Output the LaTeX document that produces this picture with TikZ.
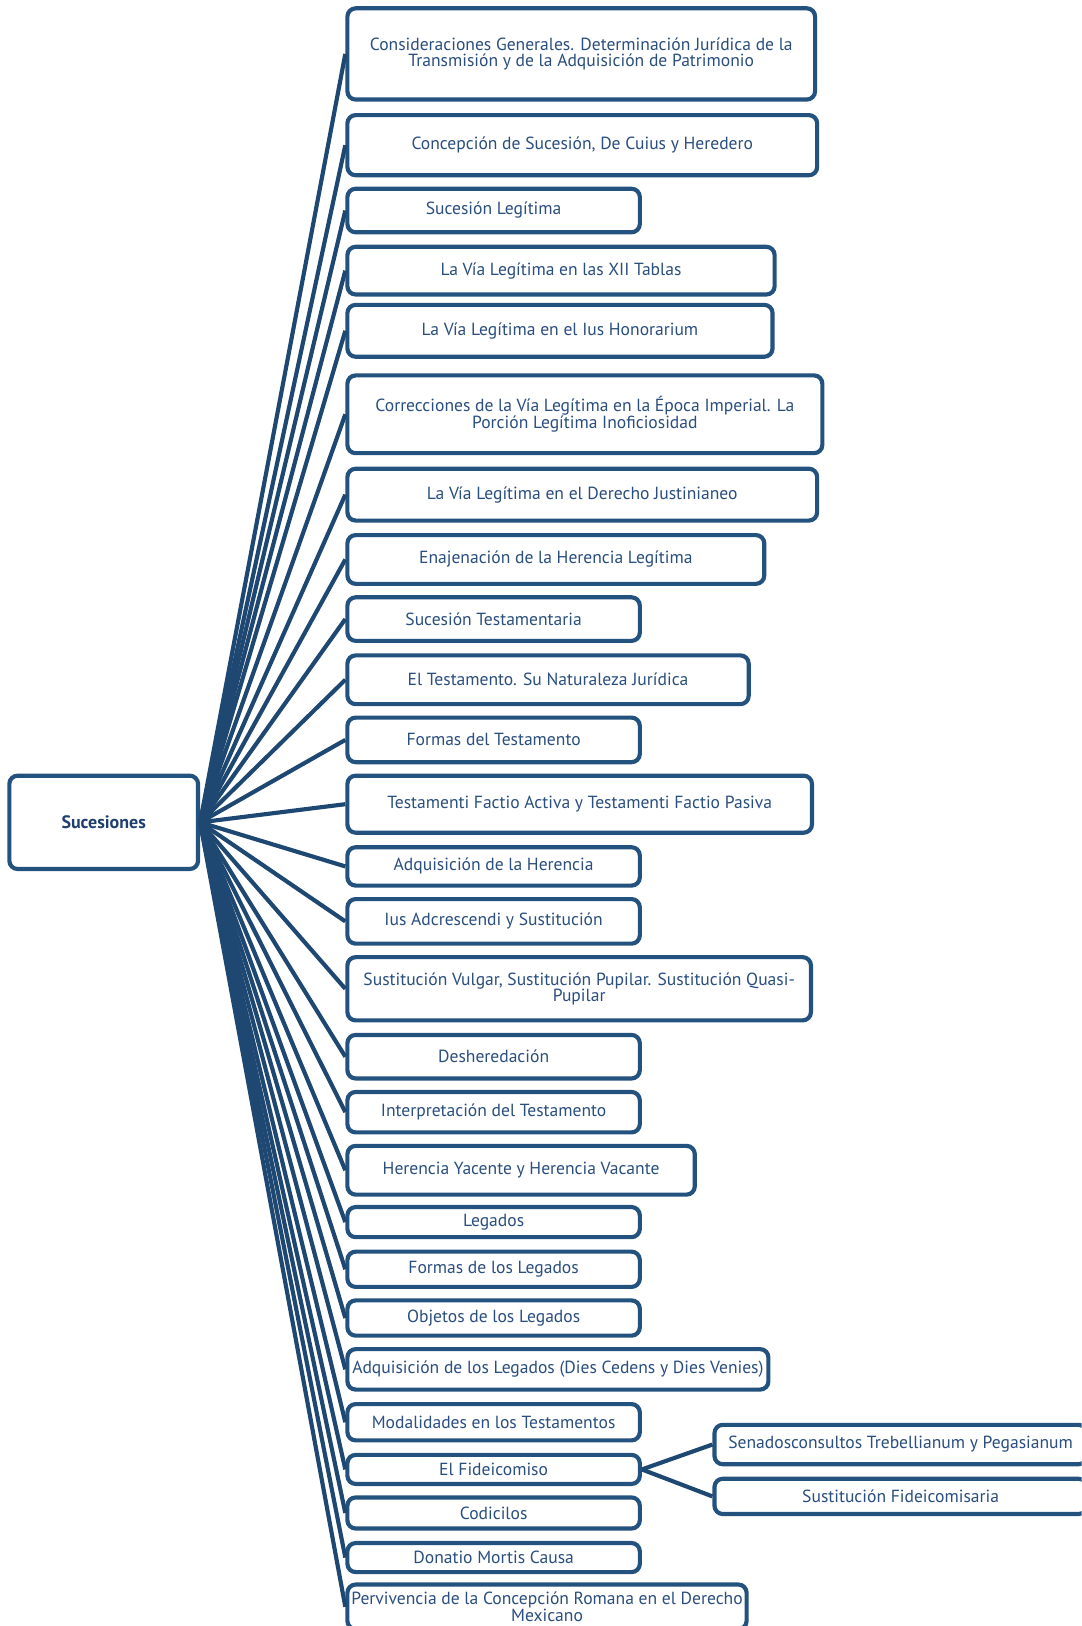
\documentclass[tikz,border=0pt]{standalone}
\usepackage{fontspec}
\setmainfont{PT Sans}
\definecolor{bordc}{HTML}{24527F}
\definecolor{linec}{HTML}{1E4872}
\definecolor{txtc}{HTML}{2A4E7E}
\definecolor{roottxt}{HTML}{1F3F6E}
\tikzset{
  box/.style={draw=bordc, line width=3pt, rounded corners=6pt, fill=white, inner sep=0pt,
    align=center, text=txtc, font=\fontsize{12.7}{12}\selectfont},
  rootbox/.style={box, font=\fontsize{13}{13}\selectfont\bfseries, text=roottxt},
  conn/.style={draw=linec, line width=3pt}
}
\newcommand\bx[7][box]{\node[#1, minimum width={(#4-#3)*0.75pt}, minimum height={(#6-#5)*0.75pt}]
  (#2) at ({(#3+#4)/2},{(#5+#6)/2}) {#7};}
\begin{document}
\begin{tikzpicture}[x=0.75pt,y=-0.75pt]
\useasboundingbox (0,0) rectangle (1043,1568);
\clip (0,0) rectangle (1043,1568);
\fill[white] (0,0) rectangle (1043,1568);
\bx[rootbox]{root}{9}{191}{748}{838}{Sucesiones}
\bx{n1}{335}{786}{8}{96}{Consideraciones Generales. Determinación Jurídica de la\\Transmisión y de la Adquisición de Patrimonio}
\bx{n2}{335}{788}{111}{169}{Concepción de Sucesión, De Cuius y Heredero}
\bx{n3}{335}{617}{182}{224}{Sucesión Legítima}
\bx{n4}{335}{747}{238}{284}{La Vía Legítima en las XII Tablas}
\bx{n5}{335}{745}{294}{344}{La Vía Legítima en el Ius Honorarium}
\bx{n6}{335}{793}{362}{437}{Correcciones de la Vía Legítima en la Época Imperial. La\\Porción Legítima Inoficiosidad}
\bx{n7}{335}{788}{452}{502}{La Vía Legítima en el Derecho Justinianeo}
\bx{n8}{335}{737}{516}{563}{Enajenación de la Herencia Legítima}
\bx{n9}{335}{617}{576}{618}{Sucesión Testamentaria}
\bx{n10}{335}{722}{632}{679}{El Testamento. Su Naturaleza Jurídica}
\bx{n11}{335}{617}{692}{735}{Formas del Testamento}
\bx{n12}{335}{783}{748}{803}{Testamenti Factio Activa y Testamenti Factio Pasiva}
\bx{n13}{335}{617}{817}{854}{Adquisición de la Herencia}
\bx{n14}{335}{617}{867}{910}{Ius Adcrescendi y Sustitución}
\bx{n15}{335}{782}{923}{984}{Sustitución Vulgar, Sustitución Pupilar. Sustitución Quasi-\\Pupilar}
\bx{n16}{335}{617}{998}{1040}{Desheredación}
\bx{n17}{335}{617}{1053}{1092}{Interpretación del Testamento}
\bx{n18}{335}{670}{1105}{1152}{Herencia Yacente y Herencia Vacante}
\bx{n19}{335}{617}{1164}{1193}{Legados}
\bx{n20}{335}{617}{1207}{1241}{Formas de los Legados}
\bx{n21}{335}{617}{1254}{1288}{Objetos de los Legados}
\bx{n22}{335}{741}{1301}{1340}{Adquisición de los Legados (Dies Cedens y Dies Venies)}
\bx{n23}{335}{617}{1354}{1389}{Modalidades en los Testamentos}
\bx{n24}{335}{617}{1403}{1431}{El Fideicomiso}
\bx{n25}{335}{617}{1444}{1474}{Codicilos}
\bx{n26}{335}{617}{1488}{1516}{Donatio Mortis Causa}
\bx{n27}{335}{720}{1528}{1571}{Pervivencia de la Concepción Romana en el Derecho\\Mexicano}
\bx{s1}{689}{1048}{1374}{1412}{Senadosconsultos Trebellianum y Pegasianum}
\bx{s2}{689}{1048}{1426}{1460}{Sustitución Fideicomisaria}
\foreach \i in {1,...,27} { \draw[conn] (root.east) -- (n\i.west); }
\draw[conn] (n24.east) -- (s1.west);
\draw[conn] (n24.east) -- (s2.west);
\end{tikzpicture}
\end{document}
